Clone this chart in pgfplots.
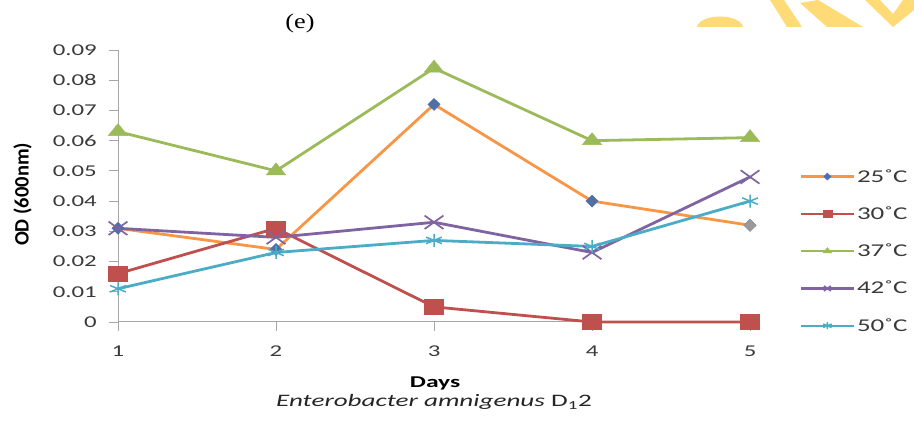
\documentclass[border=0pt]{standalone}
\usepackage{pgfplots}
\pgfplotsset{compat=1.18}
\usepackage{fontspec}
\setmainfont{Carlito}
\newfontfamily\seriffont{Liberation Serif}
\definecolor{c25}{HTML}{F79646}
\definecolor{m25}{HTML}{4F6FA8}
\definecolor{c30}{HTML}{C0504D}
\definecolor{c37}{HTML}{9BBB59}
\definecolor{c42}{HTML}{8064A2}
\definecolor{c50}{HTML}{4BACC6}
\definecolor{wm}{HTML}{FFDB78}
\definecolor{axgray}{HTML}{A6A6A6}
\definecolor{txt}{HTML}{3A3A3A}
\begin{document}
\begin{tikzpicture}[x=1pt,y=1pt]
\path[use as bounding box] (0,0) rectangle (914,423);
% watermark fragments (top right)
\fill[wm] (697,396) .. controls (700,410) and (740,410) .. (743,396) -- cycle;
\fill[wm] (770,423) -- (784,423) -- (802,396) -- (787,396) -- cycle;
\fill[wm] (800,420) -- (818,423) -- (863,396) -- (827,396) -- cycle;
\fill[wm] (865,423) -- (880,423) -- (893,409) -- (903,423) -- (914,423) -- (914,413) -- (893,396) -- cycle;
\node[font=\seriffont\fontsize{21}{22}\selectfont, xscale=1.25, anchor=base] at (300,394) {(e)};
\begin{axis}[
  at={(118pt,101pt)}, anchor=south west,
  scale only axis, width=642pt, height=272pt,
  xmin=1, xmax=5.063, ymin=0, ymax=0.09,
  clip=false,
  scaled y ticks=false, scaled x ticks=false,
  axis x line*=bottom, axis y line*=left,
  axis line style={draw=axgray, line width=1pt, -},
  tick align=outside, major tick length=9pt,
  tick style={draw=axgray, line width=0.9pt},
  xtick={1,2,3,4,5},
  ytick={0,0.01,0.02,0.03,0.04,0.05,0.06,0.07,0.08,0.09},
  yticklabels={0,0.01,0.02,0.03,0.04,0.05,0.06,0.07,0.08,0.09},
  xticklabels={1,2,3,4,5},
  tick label style={font=\fontsize{16.5}{17}\selectfont, text=txt, xscale=1.5},
  yticklabel style={inner sep=0pt, xshift=-8pt},
  xticklabel style={inner sep=0pt, yshift=-15pt},
  xlabel={Days},
  xlabel style={at={(rel axis cs:0.494,0)}, anchor=base, yshift=-66pt, font=\bfseries\fontsize{16.5}{17}\selectfont, xscale=1.55},
  ylabel={OD (600nm)},
  ylabel style={at={(rel axis cs:-0.1487,0.469)}, anchor=center, font=\bfseries\fontsize{20.5}{22}\selectfont},
  legend style={at={(rel axis cs:1.062,0.555)}, anchor=north west, draw=none, fill=none,
    inner sep=0pt, outer sep=0pt, row sep=26.3pt, column sep=2pt,
    nodes={font=\fontsize{18}{19}\selectfont, text=txt, inner sep=0pt, anchor=west, text height=11pt, text depth=0pt}},
  legend cell align=left,
  legend image code/.code={\draw[mark repeat=2, mark phase=2, #1, line width=2.2pt, mark size=3.5pt] plot coordinates {(0pt,0pt) (26.5pt,0pt) (53pt,0pt)};},
]
\addplot[c25, line width=2.8pt, mark=diamond*, mark size=6pt, mark options={fill=m25, draw=m25, xscale=1.35, line width=0.5pt}]
  coordinates {(1,0.031) (2,0.024) (3,0.072) (4,0.040) (5,0.032)};
\addlegendentry{\scalebox{1.5}[1]{25˚C}}
\addplot[c30, line width=2.8pt, mark=square*, mark size=7.5pt, mark options={fill=c30, draw=c30, xscale=1.25, line width=0.5pt}]
  coordinates {(1,0.016) (2,0.031) (3,0.005) (4,0) (5,0)};
\addlegendentry{\scalebox{1.5}[1]{30˚C}}
\addplot[c37, line width=2.8pt, mark=triangle*, mark size=8pt, mark options={fill=c37, draw=c37, xscale=1.4, line width=0.5pt}]
  coordinates {(1,0.063) (2,0.050) (3,0.084) (4,0.060) (5,0.061)};
\addlegendentry{\scalebox{1.5}[1]{37˚C}}
\addplot[c42, line width=2.8pt, mark=x, mark size=9.5pt, mark options={draw=c42, xscale=1.4, line width=1.7pt}]
  coordinates {(1,0.031) (2,0.028) (3,0.033) (4,0.023) (5,0.048)};
\addlegendentry{\scalebox{1.5}[1]{42˚C}}
\addplot[c50, line width=2.8pt, mark=asterisk, mark size=6.5pt, mark options={draw=c50, xscale=1.4, line width=1.5pt}]
  coordinates {(1,0.011) (2,0.023) (3,0.027) (4,0.025) (5,0.040)};
\addlegendentry{\scalebox{1.5}[1]{50˚C}}
\addplot[only marks, forget plot, mark=diamond*, mark size=6pt, mark options={fill=gray!80, draw=gray!80, xscale=1.35}]
  coordinates {(5,0.032)};
\end{axis}
\node[font=\fontsize{17.5}{18}\selectfont, text=black!85, xscale=1.55, anchor=base] at (434,16) {\itshape Enterobacter amnigenus\upshape\ D\textsubscript{1}2};
\end{tikzpicture}
\end{document}
